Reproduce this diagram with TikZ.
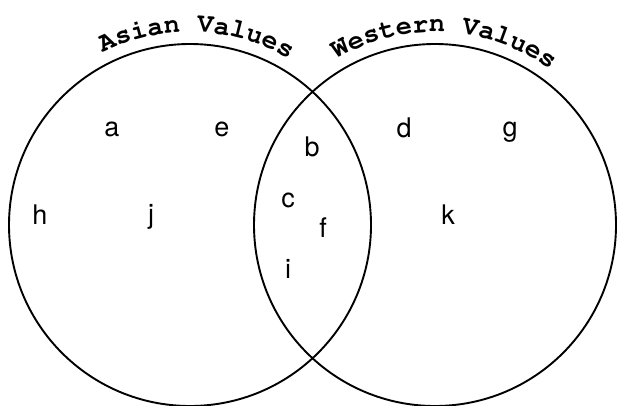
\documentclass[tikz,border=0pt]{standalone}
\usepackage{fontspec}
\setsansfont{TeX Gyre Heros}
\usetikzlibrary{decorations.text}

\newcommand{\titlefont}{\fontencoding{T1}\fontfamily{pcr}\fontseries{b}\fontsize{27}{30}\selectfont}

\tikzset{
  lbl/.style={font=\sffamily\fontsize{27}{30}\selectfont, inner sep=0pt},
  ring/.style={line width=1.9pt, draw=black},
}

\begin{document}
\begin{tikzpicture}[x=1pt,y=1pt]
\def\xa{190};
\def\xb{435};
\def\yc{180};
\def\rad{181pt};
\def\rtext{193pt};

\useasboundingbox (0,0) rectangle (617,405);

\draw[ring] (\xa,\yc) circle (\rad);
\draw[ring] (\xb,\yc) circle (\rad);

% titles along the top arcs
\path[decorate, decoration={text along path, text align=center,
  text={|\titlefont|Asian Values}}]
  (\xa,\yc) ++(160:\rtext) arc[start angle=160, end angle=16, radius=\rtext];
\path[decorate, decoration={text along path, text align=center,
  text={|\titlefont|Western Values}}]
  (\xb,\yc) ++(158:\rtext) arc[start angle=158, end angle=16, radius=\rtext];

% left only
\node[lbl] (a) at (112,276) {a};
\node[lbl] (e) at (222,276) {e};
\node[lbl] (h) at (40,190) {h};
\node[lbl] (j) at (151,188) {j};

% overlap
\node[lbl] (b) at (312,258) {b};
\node[lbl] (c) at (288,205) {c};
\node[lbl] (f) at (323,177) {f};
\node[lbl] (i) at (288,136) {i};

% right only
\node[lbl] (d) at (404,277) {d};
\node[lbl] (g) at (510,273) {g};
\node[lbl] (k) at (448,190) {k};

\end{tikzpicture}
\end{document}
